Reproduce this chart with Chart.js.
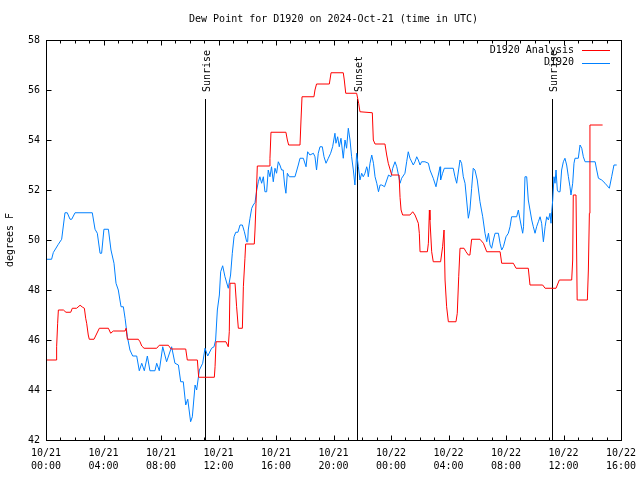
<!DOCTYPE html>
<html>
<head>
<meta charset="utf-8">
<script src="https://cdn.jsdelivr.net/npm/chart.js@4.4.1/dist/chart.umd.min.js"></script>
<style>
  html, body { margin: 0; padding: 0; background: #fff; }
  #wrap { width: 640px; height: 480px; }
</style>
</head>
<body>
<div id="wrap"><canvas id="dewChart" width="640" height="480"></canvas></div>
<script>
// hours since 2024-10-21 00:00 UTC
var analysisHours = [0, 0.7, 0.74, 0.81, 0.86, 1.21, 1.39, 1.72, 1.83, 2.13, 2.37, 2.55, 2.67, 2.76, 2.83, 2.94, 3.01, 3.34, 3.71, 4.34, 4.5, 4.68, 5.5, 5.57, 5.66, 6.42, 6.54, 6.66, 6.82, 7.7, 7.88, 8.51, 8.7, 9.72, 9.83, 10.53, 10.62, 11.71, 11.76, 11.83, 12.52, 12.68, 12.75, 12.8, 13.15, 13.26, 13.38, 13.66, 13.73, 13.84, 13.89, 14.49, 14.54, 14.61, 14.7, 15.54, 15.58, 15.65, 16.69, 16.79, 16.88, 17.67, 17.74, 17.81, 18.64, 18.71, 18.82, 19.71, 19.83, 20.68, 20.75, 20.85, 21.61, 21.75, 21.84, 22.7, 22.77, 22.89, 23.58, 23.7, 23.81, 24.05, 24.56, 24.63, 24.7, 24.81, 25.32, 25.51, 25.67, 25.9, 25.97, 26.02, 26.53, 26.6, 26.67, 26.71, 26.83, 26.94, 27.45, 27.59, 27.69, 27.76, 27.87, 27.99, 28.52, 28.61, 28.71, 28.8, 29.08, 29.22, 29.38, 29.49, 29.61, 30.19, 30.43, 30.66, 31.59, 31.7, 32.51, 32.7, 33.55, 33.67, 34.55, 34.72, 35.48, 35.71, 36.57, 36.64, 36.68, 36.87, 36.95, 37.03, 37.66, 37.73, 37.8, 37.84, 38.72];
var analysisDew = [45.2, 45.2, 45.73, 46.67, 47.2, 47.2, 47.11, 47.11, 47.27, 47.27, 47.39, 47.31, 47.27, 46.87, 46.67, 46.2, 46.03, 46.03, 46.47, 46.47, 46.27, 46.36, 46.36, 46.47, 46.03, 46.03, 45.93, 45.76, 45.67, 45.67, 45.79, 45.79, 45.64, 45.64, 45.2, 45.2, 44.51, 44.51, 44.93, 45.93, 45.93, 45.73, 46.33, 48.27, 48.27, 47.33, 46.47, 46.47, 48.13, 49.27, 49.84, 49.84, 50.4, 51.47, 52.96, 52.96, 53.27, 54.31, 54.31, 54.0, 53.8, 53.8, 54.8, 55.73, 55.73, 56.0, 56.24, 56.24, 56.69, 56.69, 56.4, 55.87, 55.87, 55.47, 55.13, 55.09, 54.0, 53.84, 53.84, 53.4, 53.07, 52.6, 52.6, 51.7, 51.2, 51.0, 51.0, 51.13, 51.0, 50.67, 50.27, 49.53, 49.53, 49.87, 51.2, 50.8, 49.53, 49.13, 49.13, 49.73, 50.4, 48.4, 47.33, 46.73, 46.73, 47.07, 48.53, 49.67, 49.67, 49.53, 49.4, 49.4, 50.03, 50.03, 49.87, 49.53, 49.53, 49.07, 49.07, 48.87, 48.87, 48.2, 48.2, 48.07, 48.07, 48.4, 48.4, 49.2, 51.8, 51.8, 47.6, 47.6, 47.6, 48.8, 51.07, 54.6, 54.6];

var stationHours = [0, 0.39, 0.51, 0.86, 1.09, 1.32, 1.48, 1.67, 1.79, 2.02, 3.22, 3.41, 3.57, 3.76, 3.87, 4.03, 4.34, 4.52, 4.73, 4.87, 5.03, 5.22, 5.38, 5.5, 5.66, 5.84, 6.03, 6.31, 6.49, 6.66, 6.84, 7.05, 7.23, 7.58, 7.7, 7.88, 8.12, 8.39, 8.74, 8.97, 9.21, 9.37, 9.55, 9.72, 9.86, 10.06, 10.18, 10.37, 10.48, 10.67, 10.9, 11.06, 11.25, 11.52, 11.69, 11.8, 11.92, 12.06, 12.15, 12.29, 12.45, 12.68, 12.84, 12.96, 13.08, 13.2, 13.35, 13.5, 13.66, 13.8, 13.96, 14.03, 14.07, 14.19, 14.31, 14.42, 14.54, 14.66, 14.77, 14.88, 15.0, 15.12, 15.23, 15.35, 15.46, 15.58, 15.69, 15.81, 15.93, 16.04, 16.16, 16.27, 16.39, 16.5, 16.6, 16.69, 16.79, 16.93, 17.32, 17.55, 17.67, 17.9, 18.09, 18.2, 18.36, 18.6, 18.71, 18.82, 18.94, 19.06, 19.22, 19.34, 19.48, 19.64, 19.8, 19.94, 20.1, 20.17, 20.29, 20.4, 20.52, 20.68, 20.8, 20.91, 21.03, 21.15, 21.26, 21.38, 21.49, 21.61, 21.73, 21.84, 21.96, 22.07, 22.19, 22.31, 22.37, 22.42, 22.54, 22.66, 22.78, 22.89, 23.01, 23.13, 23.24, 23.36, 23.55, 23.71, 23.83, 24.0, 24.12, 24.28, 24.4, 24.52, 24.63, 24.74, 24.97, 25.09, 25.2, 25.32, 25.55, 25.67, 25.79, 25.9, 26.02, 26.13, 26.36, 26.6, 26.71, 26.94, 27.13, 27.22, 27.41, 27.45, 27.59, 27.71, 28.33, 28.45, 28.57, 28.8, 28.91, 29.03, 29.15, 29.26, 29.38, 29.49, 29.61, 29.72, 29.84, 30.0, 30.19, 30.38, 30.54, 30.66, 30.78, 30.89, 31.0, 31.12, 31.24, 31.47, 31.59, 31.7, 31.82, 32.0, 32.16, 32.28, 32.39, 32.74, 32.86, 32.98, 33.16, 33.22, 33.32, 33.44, 33.55, 33.67, 33.79, 33.9, 34.02, 34.13, 34.25, 34.37, 34.48, 34.6, 34.72, 34.83, 34.95, 35.06, 35.13, 35.18, 35.25, 35.34, 35.41, 35.48, 35.57, 35.64, 35.76, 35.87, 35.99, 36.1, 36.22, 36.34, 36.45, 36.52, 36.64, 36.73, 36.8, 37.03, 37.15, 37.27, 37.38, 37.5, 38.2, 38.31, 38.43, 38.66, 38.89, 39.19, 39.35, 39.51, 39.7];
var stationDew = [49.23, 49.23, 49.5, 49.83, 50.03, 51.09, 51.09, 50.83, 50.83, 51.09, 51.09, 50.43, 50.27, 49.47, 49.47, 50.43, 50.43, 49.6, 49.07, 48.27, 48.0, 47.33, 47.33, 46.87, 46.13, 45.6, 45.36, 45.36, 44.77, 45.07, 44.77, 45.36, 44.77, 44.77, 45.07, 44.77, 45.73, 45.13, 45.73, 45.07, 45.0, 44.33, 44.33, 43.4, 43.63, 42.73, 42.93, 44.2, 44.0, 44.8, 45.07, 45.67, 45.36, 45.67, 45.73, 46.0, 47.2, 47.8, 48.73, 48.97, 48.53, 48.07, 48.6, 49.47, 50.13, 50.31, 50.31, 50.6, 50.6, 50.33, 49.93, 49.93, 50.4, 50.87, 51.27, 51.4, 51.5, 52.0, 52.33, 52.53, 52.27, 52.53, 51.93, 51.93, 52.8, 52.53, 52.93, 52.33, 52.87, 52.67, 53.13, 53.0, 52.8, 52.8, 52.2, 51.87, 52.67, 52.53, 52.53, 53.0, 53.27, 53.27, 52.93, 53.53, 53.4, 53.47, 53.33, 52.8, 53.47, 53.73, 53.73, 53.33, 53.07, 53.27, 53.47, 53.73, 54.27, 53.87, 54.13, 53.73, 54.07, 53.27, 54.0, 53.67, 54.47, 54.0, 53.33, 52.8, 52.2, 53.47, 52.93, 52.4, 52.67, 52.53, 52.67, 52.93, 52.8, 52.53, 53.07, 53.4, 53.07, 52.53, 52.27, 51.93, 52.2, 52.2, 52.13, 52.4, 52.6, 52.53, 52.87, 53.13, 52.93, 52.6, 52.27, 52.47, 52.67, 53.13, 53.53, 53.27, 53.0, 53.13, 53.33, 53.2, 53.0, 53.13, 53.13, 53.07, 52.8, 52.47, 52.13, 52.4, 52.93, 52.4, 52.67, 52.87, 52.87, 52.53, 52.27, 53.2, 53.07, 52.53, 52.27, 51.6, 50.87, 51.2, 52.07, 52.87, 52.8, 52.4, 51.53, 50.93, 50.27, 49.93, 50.27, 49.8, 49.67, 50.0, 50.27, 50.27, 49.87, 49.6, 49.73, 50.13, 50.27, 50.53, 50.93, 50.93, 51.2, 50.8, 50.27, 50.53, 52.53, 52.53, 51.6, 51.2, 50.8, 50.53, 50.27, 50.53, 50.73, 50.93, 50.67, 49.93, 50.53, 50.93, 50.8, 51.07, 50.67, 51.13, 51.6, 52.53, 52.27, 52.8, 52.0, 51.93, 51.93, 52.8, 53.13, 53.27, 53.0, 52.53, 52.13, 51.8, 52.27, 53.07, 53.27, 53.27, 53.8, 53.67, 53.33, 53.13, 53.13, 52.8, 52.47, 52.4, 52.27, 52.07, 52.53, 53.0, 53.0];

// sunrise / sunset markers
var eventHours = [11.06, 21.63, 35.18];
var eventNames = ['Sunrise', 'Sunset', 'Sunrise'];

var xTickDates = ['10/21', '10/21', '10/21', '10/21', '10/21', '10/21', '10/22', '10/22', '10/22', '10/22', '10/22'];
var xTickTimes = ['00:00', '04:00', '08:00', '12:00', '16:00', '20:00', '00:00', '04:00', '08:00', '12:00', '16:00'];

var seriesNames = ['D1920 Analysis', 'D1920'];
var seriesColors = ['#ff0000', '#0080ff'];

var FONT = '"DejaVu Sans Mono", "Liberation Mono", monospace';

function toPoints(xs, ys) {
  var pts = [];
  for (var i = 0; i < xs.length; i++) pts.push({ x: xs[i], y: ys[i] });
  return pts;
}

// box, inward ticks, sunrise/sunset lines, legend and title (gnuplot look)
var decorPlugin = {
  id: 'decor',
  beforeDatasetsDraw: function (chart) {
    var ctx = chart.ctx, a = chart.chartArea, xs = chart.scales.x;
    ctx.save();
    ctx.strokeStyle = '#000';
    ctx.lineWidth = 1;
    ctx.fillStyle = '#000';
    ctx.font = '10px ' + FONT;
    for (var i = 0; i < eventHours.length; i++) {
      var px = Math.round(xs.getPixelForValue(eventHours[i])) + 0.5;
      ctx.beginPath();
      ctx.moveTo(px, a.top + 59);
      ctx.lineTo(px, a.bottom);
      ctx.stroke();
      ctx.save();
      ctx.translate(px + 1.5, a.top + 52);
      ctx.rotate(-Math.PI / 2);
      ctx.textAlign = 'left';
      ctx.textBaseline = 'middle';
      ctx.fillText(eventNames[i], 0, 0);
      ctx.restore();
    }
    ctx.restore();
  },
  afterDraw: function (chart) {
    var ctx = chart.ctx, a = chart.chartArea, xs = chart.scales.x, ys = chart.scales.y;
    ctx.save();
    ctx.strokeStyle = '#000';
    ctx.lineWidth = 1;
    var L = Math.round(a.left) + 0.5, R = Math.round(a.right) + 0.5;
    var T = Math.round(a.top) + 0.5, B = Math.round(a.bottom) + 0.5;
    ctx.strokeRect(L, T, R - L, B - T);

    ctx.beginPath();
    for (var h = 0; h <= 40; h++) {
      var px = Math.round(xs.getPixelForValue(h)) + 0.5;
      var len = (h % 4 === 0) ? 5 : 3;
      ctx.moveTo(px, B); ctx.lineTo(px, B - len);
      ctx.moveTo(px, T); ctx.lineTo(px, T + len);
    }
    for (var v = 42; v <= 58; v += 2) {
      var py = Math.round(ys.getPixelForValue(v)) + 0.5;
      ctx.moveTo(L, py); ctx.lineTo(L + 5, py);
      ctx.moveTo(R, py); ctx.lineTo(R - 5, py);
    }
    ctx.stroke();

    // title
    ctx.fillStyle = '#000';
    ctx.font = '10px ' + FONT;
    ctx.textAlign = 'center';
    ctx.textBaseline = 'middle';
    ctx.fillText('Dew Point for D1920 on 2024-Oct-21 (time in UTC)', (a.left + a.right) / 2, 19);

    // legend
    ctx.textAlign = 'right';
    for (var k = 0; k < seriesNames.length; k++) {
      var ly = a.top + 10 + k * 12.5;
      ctx.fillStyle = '#000';
      ctx.fillText(seriesNames[k], a.right - 47, ly);
      ctx.strokeStyle = seriesColors[k];
      ctx.beginPath();
      ctx.moveTo(a.right - 39, Math.round(ly) + 0.5);
      ctx.lineTo(a.right - 11, Math.round(ly) + 0.5);
      ctx.stroke();
    }
    ctx.restore();
  }
};

var ctx = document.getElementById('dewChart').getContext('2d');
var dewChart = new Chart(ctx, {
  type: 'line',
  data: {
    datasets: [{
      label: seriesNames[0],
      data: toPoints(analysisHours, analysisDew),
      borderColor: seriesColors[0],
      borderWidth: 1,
      pointRadius: 0,
      tension: 0,
      fill: false
    }, {
      label: seriesNames[1],
      data: toPoints(stationHours, stationDew),
      borderColor: seriesColors[1],
      borderWidth: 1,
      pointRadius: 0,
      tension: 0,
      fill: false
    }]
  },
  options: {
    responsive: false,
    animation: false,
    layout: { padding: { left: 0, right: 19, top: 40, bottom: 0 } },
    plugins: {
      legend: { display: false },
      tooltip: { enabled: false }
    },
    scales: {
      x: {
        type: 'linear',
        min: 0,
        max: 40,
        grid: { display: false, drawTicks: false },
        border: { display: false },
        ticks: {
          stepSize: 4,
          autoSkip: false,
          maxRotation: 0,
          padding: 7,
          color: '#000',
          font: { family: FONT, size: 10, lineHeight: 1.3 },
          callback: function (value) {
            var i = Math.round(value / 4);
            return [xTickDates[i], xTickTimes[i]];
          }
        },
        afterFit: function (scale) {
          scale.height = 40;
          scale.paddingLeft = 0;
          scale.paddingRight = 0;
        }
      },
      y: {
        min: 42,
        max: 58,
        grid: { display: false, drawTicks: false },
        border: { display: false },
        ticks: {
          stepSize: 2,
          padding: 6,
          color: '#000',
          font: { family: FONT, size: 10 }
        },
        title: {
          display: true,
          text: 'degrees F',
          color: '#000',
          font: { family: FONT, size: 10 },
          padding: { top: 4, bottom: 0 }
        },
        afterFit: function (scale) {
          scale.width = 46;
          scale.paddingTop = 0;
          scale.paddingBottom = 0;
        }
      }
    }
  },
  plugins: [decorPlugin]
});
</script>
</body>
</html>
